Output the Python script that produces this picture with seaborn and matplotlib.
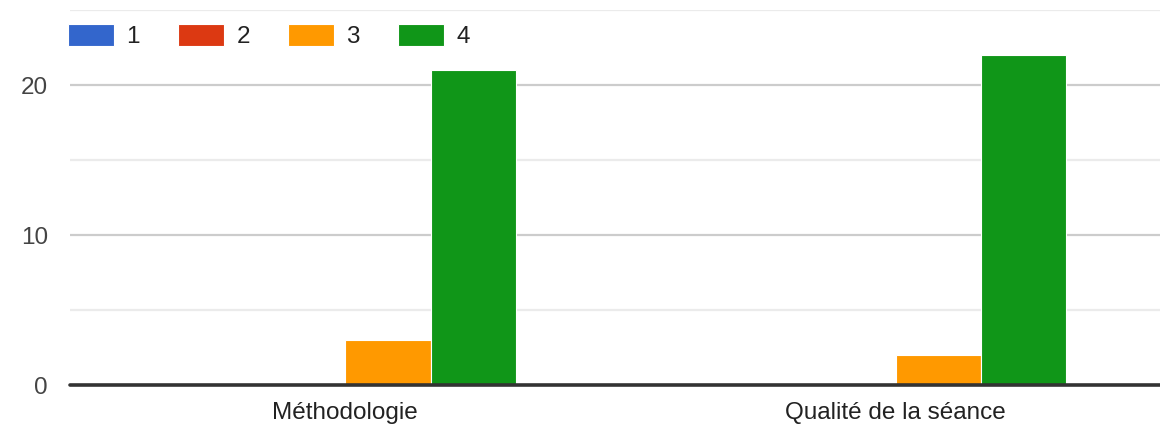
import matplotlib
matplotlib.use("Agg")
import matplotlib.pyplot as plt
import seaborn as sns
import pandas as pd

sns.set_theme(style="white")
plt.rcParams['font.family'] = ['Liberation Sans', 'DejaVu Sans']

categories = ["Méthodologie", "Qualité de la séance"]
ratings = ["1", "2", "3", "4"]
counts_1 = [0, 0]
counts_2 = [0, 0]
counts_3 = [3, 2]
counts_4 = [21, 22]
colors = ["#3366CC", "#DC3912", "#FF9900", "#109618"]

rows = []
for rating, vals in zip(ratings, [counts_1, counts_2, counts_3, counts_4]):
    for cat, v in zip(categories, vals):
        rows.append({"Catégorie": cat, "Note": rating, "Nombre": v})
df = pd.DataFrame(rows)

fig = plt.figure(figsize=(11.6, 4.28), dpi=100)
ax = fig.add_axes([70 / 1160, 1 - 385 / 428, (1160 - 70) / 1160, 375 / 428])

# gridlines: major at 10s, lighter at 5s
for y in [5, 15, 25]:
    ax.axhline(y, color="#ebebeb", lw=1.6, zorder=0)
for y in [10, 20]:
    ax.axhline(y, color="#cccccc", lw=1.6, zorder=0)

sns.barplot(data=df, x="Catégorie", y="Nombre", hue="Note", palette=colors,
            width=0.62, edgecolor="white", linewidth=0.8, saturation=1,
            ax=ax, legend=True, zorder=2)

ax.axhline(0, color="#333333", lw=2.6, zorder=3, clip_on=False)
ax.set_ylim(0, 25)
ax.set_xlim(-0.5, 1.48)
ax.set_yticks([0, 10, 20])
ax.set_xlabel("")
ax.set_ylabel("")
ax.tick_params(axis="y", labelsize=17.5, labelcolor="#444444", length=0, pad=16)
ax.tick_params(axis="x", labelsize=17.5, labelcolor="#222222", length=0, pad=12.5)
for s in ax.spines.values():
    s.set_visible(False)

handles, labels = ax.get_legend_handles_labels()
ax.get_legend().remove()
leg = fig.legend(handles, labels, loc="center left", bbox_to_anchor=(58 / 1160, 1 - 36 / 428),
                 ncol=4, frameon=False, fontsize=17.5, handlelength=1.89, handleheight=1.0,
                 handletextpad=0.53, columnspacing=1.55, borderaxespad=0)
for t in leg.get_texts():
    t.set_color("#222222")

fig.savefig("out.png", dpi=100)
